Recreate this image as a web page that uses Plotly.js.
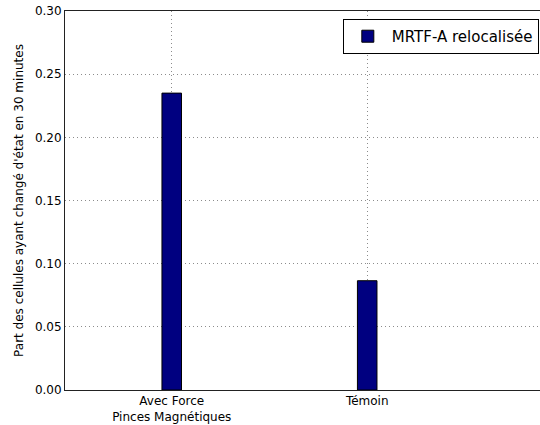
<!DOCTYPE html>
<html>
<head>
<meta charset="utf-8">
<script src="https://cdn.plot.ly/plotly-3.0.1.min.js"></script>
<style>html,body{margin:0;padding:0;overflow:hidden;background:#fff;width:540px;height:425px;}</style>
</head>
<body>
<div id="chart" style="width:560px;height:425px;"></div>
<script>
const categories = ["Avec Force<br>Pinces Magnétiques", "Témoin"];
const values = [0.235, 0.0865];
const seriesName = "MRTF-A relocalisée";
const yTitle = "Part des cellules ayant changé d'état en 30 minutes";

const font = "DejaVu Sans, sans-serif";

const trace = {
  type: "bar",
  x: categories,
  y: values,
  name: seriesName,
  width: 0.1,
  marker: {color: "#000080", line: {color: "#000000", width: 1}},
  showlegend: true,
  hoverinfo: "skip"
};

const layout = {
  width: 560,
  height: 425,
  autosize: false,
  margin: {l: 65, r: 11, t: 11, b: 35, pad: 0, autoexpand: false},
  paper_bgcolor: "#ffffff",
  plot_bgcolor: "#ffffff",
  font: {family: font, size: 12, color: "#000000"},
  showlegend: true,
  legend: {
    x: 0.574, y: 0.979, xanchor: "left", yanchor: "top",
    bgcolor: "#ffffff", bordercolor: "#000000", borderwidth: 1,
    itemwidth: 38,
    font: {family: font, size: 15, color: "#000000"}
  },
  xaxis: {
    type: "category",
    range: [-0.546, 1.93],
    showline: true, linecolor: "#222222", linewidth: 1, mirror: true,
    showgrid: true, gridcolor: "#8c8c8c", griddash: "1px,3px", gridwidth: 1,
    ticks: "",
    tickfont: {family: font, size: 12, color: "#000000"},
    zeroline: false, fixedrange: true
  },
  yaxis: {
    range: [0, 0.30],
    dtick: 0.05, tick0: 0, tickformat: ".2f",
    showline: true, linecolor: "#222222", linewidth: 1, mirror: false,
    showgrid: true, gridcolor: "#8c8c8c", griddash: "1px,3px", gridwidth: 1,
    ticks: "",
    tickfont: {family: font, size: 12, color: "#000000"},
    zeroline: false, fixedrange: true,
    title: {text: yTitle, font: {family: font, size: 12, color: "#000000"}, standoff: 8}
  }
};

Plotly.newPlot("chart", [trace], layout, {displayModeBar: false, staticPlot: true});
</script>
</body>
</html>
